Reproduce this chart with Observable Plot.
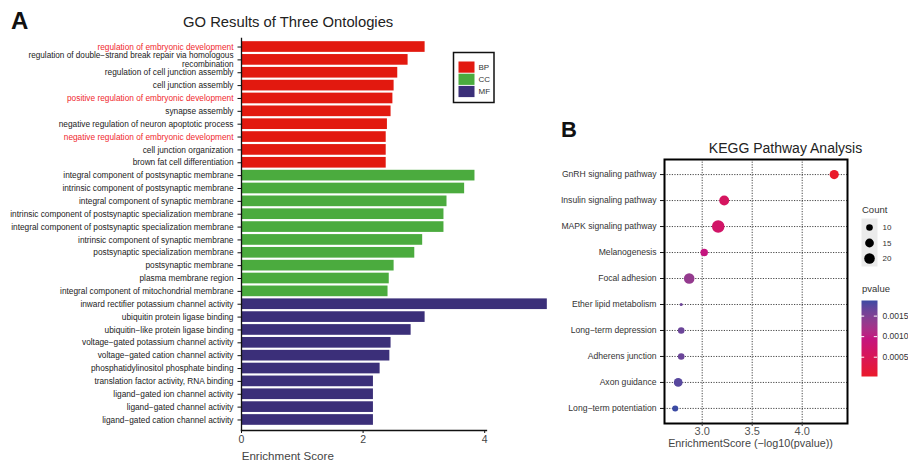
<!DOCTYPE html>
<html><head><meta charset="utf-8">
<script src="https://cdn.jsdelivr.net/npm/d3@7"></script>
<script src="https://cdn.jsdelivr.net/npm/@observablehq/plot@0.6"></script>
<style>
body{margin:0;background:#fff;}
#wrap{position:relative;width:908px;height:464px;overflow:hidden;background:#fff;font-family:"Liberation Sans",Arial,sans-serif;}
.abs{position:absolute;}
svg{overflow:visible;}
</style></head><body>
<div id="wrap"></div>
<svg width="0" height="0" style="position:absolute"><defs><linearGradient id="pgrad" x1="0" y1="1" x2="0" y2="0"></linearGradient></defs></svg>
<script>
// ---------- Panel A: GO enrichment ----------
const goTerms = [
  "regulation of embryonic development",
  "regulation of double−strand break repair via homologous\nrecombination",
  "regulation of cell junction assembly",
  "cell junction assembly",
  "positive regulation of embryonic development",
  "synapse assembly",
  "negative regulation of neuron apoptotic process",
  "negative regulation of embryonic development",
  "cell junction organization",
  "brown fat cell differentiation",
  "integral component of postsynaptic membrane",
  "intrinsic component of postsynaptic membrane",
  "integral component of synaptic membrane",
  "intrinsic component of postsynaptic specialization membrane",
  "integral component of postsynaptic specialization membrane",
  "intrinsic component of synaptic membrane",
  "postsynaptic specialization membrane",
  "postsynaptic membrane",
  "plasma membrane region",
  "integral component of mitochondrial membrane",
  "inward rectifier potassium channel activity",
  "ubiquitin protein ligase binding",
  "ubiquitin−like protein ligase binding",
  "voltage−gated potassium channel activity",
  "voltage−gated cation channel activity",
  "phosphatidylinositol phosphate binding",
  "translation factor activity, RNA binding",
  "ligand−gated ion channel activity",
  "ligand−gated channel activity",
  "ligand−gated cation channel activity"
];
const goScores = [3.02, 2.74, 2.57, 2.51, 2.49, 2.46, 2.40, 2.38, 2.38, 2.38,
                  3.84, 3.67, 3.38, 3.33, 3.33, 2.98, 2.85, 2.51, 2.43, 2.41,
                  5.03, 3.02, 2.79, 2.46, 2.44, 2.28, 2.17, 2.17, 2.17, 2.17];
const goOntology = ["BP","BP","BP","BP","BP","BP","BP","BP","BP","BP",
                    "CC","CC","CC","CC","CC","CC","CC","CC","CC","CC",
                    "MF","MF","MF","MF","MF","MF","MF","MF","MF","MF"];
const redLabels = ["regulation of embryonic development",
                   "positive regulation of embryonic development",
                   "negative regulation of embryonic development"];
const ontologies = ["BP","CC","MF"];
const ontologyColors = ["#e2190f","#4bab3e","#3b2f79"];
const goTicks = [0, 2, 4];

// ---------- Panel B: KEGG ----------
const pathways = ["GnRH signaling pathway","Insulin signaling pathway","MAPK signaling pathway",
  "Melanogenesis","Focal adhesion","Ether lipid metabolism","Long−term depression",
  "Adherens junction","Axon guidance","Long−term potentiation"];
const keggScores = [4.32, 3.22, 3.16, 3.02, 2.87, 2.79, 2.79, 2.79, 2.76, 2.73];
const keggCounts = [16, 18, 26, 12, 20, 4, 10, 10, 15, 9];
const keggPvalues = [0.000048, 0.00060, 0.00069, 0.00095, 0.00135, 0.00162, 0.00163, 0.00163, 0.00174, 0.00187];
const keggTicks = [3.0, 3.5, 4.0];
const countLegend = [10, 15, 20];
const pvalueTicks = [0.0005, 0.0010, 0.0015];
const pvalueColors = ["#ea1a2a", "#c4157f", "#3b4aa3"];

const FONT = "'Liberation Sans', Arial, sans-serif";
const wrap = document.getElementById("wrap");
function place(node, left, top) {
  const d = document.createElement("div");
  d.className = "abs"; d.style.left = left + "px"; d.style.top = top + "px";
  d.appendChild(node); wrap.appendChild(d); return d;
}

// Panel A plot
const ontColor = Object.fromEntries(ontologies.map((o, i) => [o, ontologyColors[i]]));
const goData = goTerms.map((t, i) => ({term: t, score: goScores[i], ont: goOntology[i]}));
const multiLabels = goTerms.filter(t => t.includes("\n"));
const blackLabels = goTerms.filter(t => !redLabels.includes(t) && !t.includes("\n"));
const plotA = Plot.plot({
  width: 560, height: 464,
  marginLeft: 241, marginRight: 74, marginTop: 38, marginBottom: 34,
  style: {background: "transparent", fontFamily: FONT, overflow: "visible"},
  x: {domain: [0, 5.1], range: [241, 241 + 5.1 * 60.8], axis: null},
  y: {domain: goTerms, insetTop: 1, insetBottom: 3, padding: 0.17, round: false, axis: null},
  marks: [
    Plot.barX(goData, {x: "score", y: "term", fill: d => ontColor[d.ont]}),
    Plot.axisY({ticks: blackLabels, tickSize: 3.5, tickPadding: 4.5, fontSize: 8.3, stroke: "#111", fill: "#222", label: null}),
    Plot.axisY({ticks: multiLabels, tickSize: 3.5, tickPadding: 4.5, fontSize: 8.2, lineHeight: 1.08, stroke: "#111", fill: "#222", label: null}),
    Plot.axisY({ticks: redLabels, tickSize: 3.5, tickPadding: 4.5, fontSize: 8.3, stroke: "#111", fill: "#f0282d", label: null}),
    Plot.axisX({ticks: goTicks, tickFormat: d3.format("d"), tickSize: 3, tickPadding: 2, fontSize: 10.5, fill: "#444", stroke: "#111", label: null}),
    Plot.frame({anchor: "left", stroke: "#111", strokeWidth: 1.3}),
    Plot.frame({anchor: "bottom", stroke: "#111", strokeWidth: 1.3})
  ]
});
place(plotA, 0, 0);

// Panel B plot
const keggData = pathways.map((p, i) => ({path: p, score: keggScores[i], count: keggCounts[i], p: keggPvalues[i]}));
const pExt = d3.extent(keggPvalues);
const colorCfg = {type: "linear", domain: [pExt[0], (pExt[0] + pExt[1]) / 2, pExt[1]], range: pvalueColors, interpolate: d3.interpolateLab};
const rCfg = {type: "sqrt", domain: [4, 26], range: [1.52, 6.26]};
const plotB = Plot.plot({
  width: 353, height: 364,
  marginLeft: 109, marginRight: 61, marginTop: 59, marginBottom: 41,
  style: {background: "transparent", fontFamily: FONT, overflow: "visible"},
  x: {domain: [2.623, 4.453], axis: null},
  y: {domain: pathways, padding: 0.58, round: false, axis: null},
  r: rCfg,
  color: colorCfg,
  marks: [
    Plot.ruleX(keggTicks, {stroke: "#333", strokeDasharray: "1.2,1.4", strokeWidth: 0.9}),
    Plot.ruleY(pathways, {stroke: "#333", strokeDasharray: "1.2,1.4", strokeWidth: 0.9}),
    Plot.dot(keggData, {x: "score", y: "path", r: "count", fill: "p"}),
    Plot.frame({stroke: "#000", strokeWidth: 2}),
    Plot.axisY({tickSize: 4, tickPadding: 4, fontSize: 8.6, fill: "#333", stroke: "#111", label: null}),
    Plot.axisX({ticks: keggTicks, tickFormat: d3.format(".1f"), tickSize: 3, tickPadding: 1, fontSize: 11, fill: "#555", stroke: "#333", label: null})
  ]
});
place(plotB, 555, 100);

// Count legend
const plotCount = Plot.plot({
  width: 53, height: 60, marginLeft: 6, marginRight: 31, marginTop: 6, marginBottom: 6,
  style: {background: "transparent", fontFamily: FONT, overflow: "visible"},
  x: {domain: [0, 1], axis: null},
  y: {type: "point", domain: countLegend, range: [15, 46], padding: 0, round: false, axis: null},
  r: rCfg,
  marks: [
    Plot.frame({fill: "#ebebeb", stroke: null}),
    Plot.dot(countLegend, {y: d => d, r: d => d, fill: "#000"}),
    Plot.text(countLegend, {y: d => d, text: d => String(d), frameAnchor: "right", dx: 5, textAnchor: "start", fontSize: 8, fill: "#333"})
  ]
});
place(plotCount, 855, 212);

// pvalue colorbar
const colorScale = Plot.scale({color: colorCfg});
const grad = d3.select("#pgrad");
d3.range(0, 1.0001, 0.05).forEach(t => {
  grad.append("stop").attr("offset", t).attr("stop-color", colorScale.apply(pExt[0] + t * (pExt[1] - pExt[0])));
});
const plotP = Plot.plot({
  width: 53, height: 85, marginLeft: 6, marginRight: 31, marginTop: 5, marginBottom: 4,
  style: {background: "transparent", fontFamily: FONT, overflow: "visible"},
  x: {domain: [0, 1], axis: null},
  y: {domain: [0.00003, 0.00188], axis: null},
  marks: [
    Plot.frame({fill: "url(#pgrad)", stroke: null}),
    Plot.ruleY(pvalueTicks, {x1: 0, x2: 0.2, stroke: "white", strokeWidth: 1}),
    Plot.ruleY(pvalueTicks, {x1: 0.8, x2: 1, stroke: "white", strokeWidth: 1}),
    Plot.text(pvalueTicks, {y: d => d, text: d => d3.format(".4f")(d), frameAnchor: "right", dx: 5, textAnchor: "start", fontSize: 8.5, fill: "#333"})
  ]
});
place(plotP, 855, 295);

// Overlay text: panel letters, titles, axis titles, GO legend
const ov = d3.select(wrap).append("svg").attr("class", "abs").attr("width", 908).attr("height", 464)
  .style("left", "0px").style("top", "0px").style("pointer-events", "none").style("font-family", FONT);
ov.append("text").attr("x", 11).attr("y", 29).attr("font-size", 24).attr("font-weight", "bold").attr("fill", "#111").text("A");
ov.append("text").attr("x", 183).attr("y", 27.3).attr("font-size", 14.8).attr("fill", "#222").text("GO Results of Three Ontologies");
ov.append("text").attr("x", 241.7).attr("y", 460).attr("font-size", 11.6).attr("fill", "#444").text("Enrichment Score");
ov.append("text").attr("x", 561).attr("y", 137.3).attr("font-size", 22).attr("font-weight", "bold").attr("fill", "#111").text("B");
ov.append("text").attr("x", 785.5).attr("y", 152.5).attr("font-size", 14).attr("text-anchor", "middle").attr("fill", "#222").text("KEGG Pathway Analysis");
ov.append("text").attr("x", 750.5).attr("y", 447).attr("font-size", 10.8).attr("text-anchor", "middle").attr("fill", "#444").text("EnrichmentScore (−log10(pvalue))");
ov.append("text").attr("x", 862).attr("y", 213.3).attr("font-size", 9.5).attr("fill", "#333").text("Count");
ov.append("text").attr("x", 862).attr("y", 291.5).attr("font-size", 9.5).attr("fill", "#333").text("pvalue");
// GO legend box
ov.append("rect").attr("x", 453.5).attr("y", 52.5).attr("width", 40.5).attr("height", 50).attr("fill", "white").attr("stroke", "#111").attr("stroke-width", 1.5);
ontologies.forEach((o, i) => {
  ov.append("rect").attr("x", 458.5).attr("y", 61.5 + i * 12.2).attr("width", 16).attr("height", 11.2).attr("fill", ontologyColors[i]);
  ov.append("text").attr("x", 478.5).attr("y", 67.2 + i * 12.2).attr("dy", "0.35em").attr("font-size", 8).attr("fill", "#333").text(o);
});
</script>
</body></html>
